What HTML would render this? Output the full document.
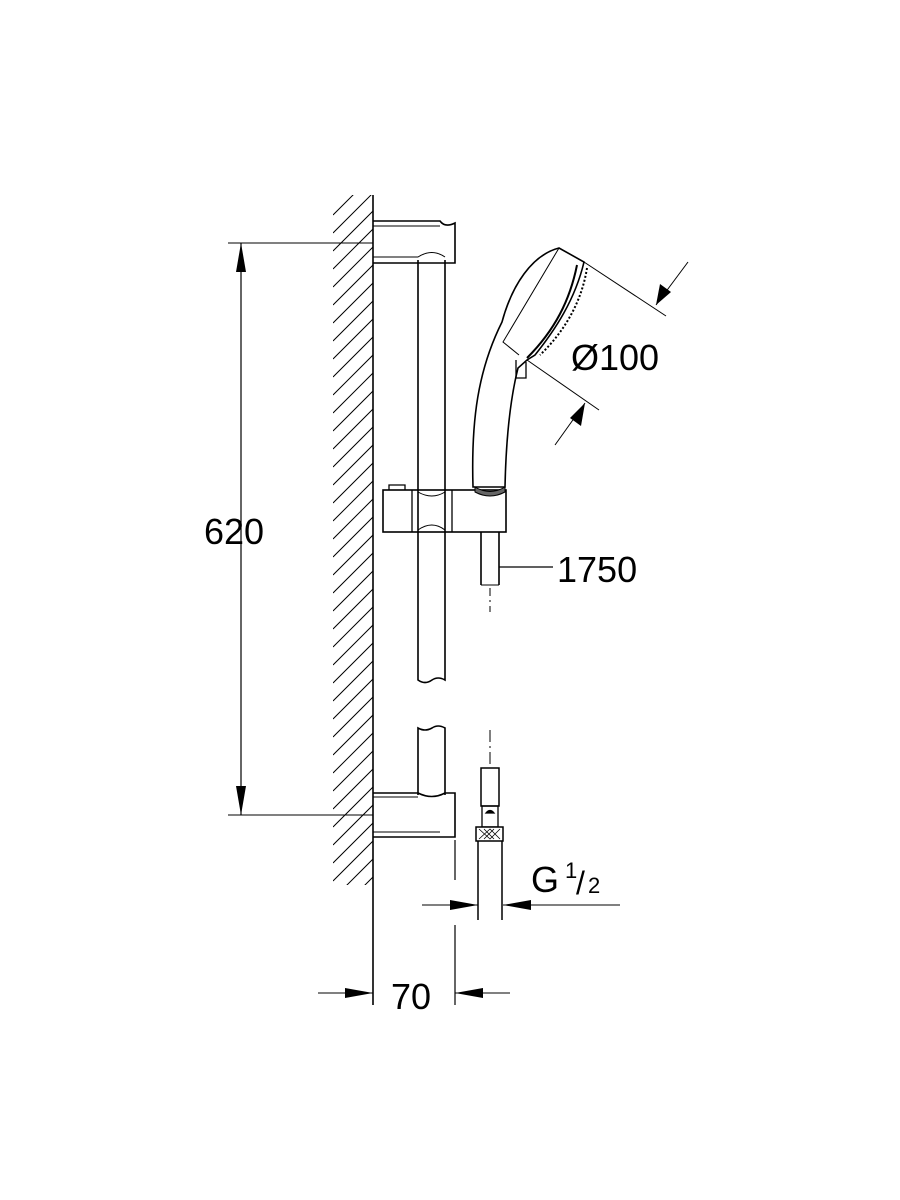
<!DOCTYPE html>
<html><head><style>html,body{margin:0;padding:0;background:#fff}svg{display:block}</style></head>
<body>
<svg width="900" height="1200" viewBox="0 0 900 1200" xmlns="http://www.w3.org/2000/svg" font-family="Liberation Sans, sans-serif">
<defs>
<clipPath id="hc"><rect x="333" y="195" width="40" height="690"/></clipPath>
</defs>
<g fill="none" stroke="#000" stroke-width="1.3">
<g clip-path="url(#hc)" stroke-width="1">
<path d="M333,215 L373,175 M333,233 L373,193 M333,251 L373,211 M333,269 L373,229 M333,287 L373,247 M333,305 L373,265 M333,323 L373,283 M333,341 L373,301 M333,359 L373,319 M333,377 L373,337 M333,395 L373,355 M333,413 L373,373 M333,431 L373,391 M333,449 L373,409 M333,467 L373,427 M333,485 L373,445 M333,503 L373,463 M333,521 L373,481 M333,539 L373,499 M333,557 L373,517 M333,575 L373,535 M333,593 L373,553 M333,611 L373,571 M333,629 L373,589 M333,647 L373,607 M333,665 L373,625 M333,683 L373,643 M333,701 L373,661 M333,719 L373,679 M333,737 L373,697 M333,755 L373,715 M333,773 L373,733 M333,791 L373,751 M333,809 L373,769 M333,827 L373,787 M333,845 L373,805 M333,863 L373,823 M333,881 L373,841 M333,899 L373,859 M333,917 L373,877"/>
</g>
<line x1="373" y1="195" x2="373" y2="1005" stroke-width="1.6"/>
<path d="M373,221 L440,221 Q445,228 455,223 L455,263 L373,263" stroke-width="1.6"/>
<path d="M373,226 L440,226" stroke-width="1"/>
<path d="M373,257 L418,257 Q432,248 445,257" stroke-width="1"/>
<path d="M418,260 L418,680 Q425,685 432,680 Q438,676 445,680 L445,260" stroke-width="1.6"/>
<path d="M418,795 L418,728 Q425,732 432,728 Q438,724 445,728 L445,795" stroke-width="1.6"/>
<path d="M373,793 L418,793 Q432,800 445,793 L455,793 L455,837 L373,837" stroke-width="1.6"/>
<path d="M373,797 L418,797 M373,832 L440,832" stroke-width="1"/>
<path d="M389,490 L389,485 L405,485 L405,490" stroke-width="1.3"/>
<rect x="383" y="490" width="123" height="42" stroke-width="1.6"/>
<line x1="412" y1="490" x2="412" y2="532"/>
<line x1="452" y1="490" x2="452" y2="532"/>
<path d="M418,492 Q432,500 445,492 M418,530 Q432,520 445,530" stroke-width="1"/>
<path d="M473,487 C471,420 478,370 502,322 C512,285 532,255 559,248 L584,262 C575,300 555,330 535,355 L527,360 L518,368 C510,400 506,440 505,487 Z" stroke-width="1.6" fill="#fff"/>
<path d="M559,248 L503,342 L519,355" stroke-width="1"/>
<path d="M577,265 C570,300 555,330 527,358" stroke-width="2"/>
<path d="M587,268 C582,300 566,330 540,355" stroke-width="2" stroke-dasharray="2,2"/>
<path d="M516,360 L516,378 L526,378 L526,362" stroke-width="1.3"/>
<path d="M475,487 Q490,496 505,487 L505,492 Q490,500 475,492 Z" fill="#666" stroke-width="1"/>
<path d="M481,532 L481,585 M499,532 L499,585" stroke-width="1.6"/>
<path d="M481,585 L499,585" stroke-width="1"/>
<path d="M490,588 L490,596 M490,600 L490,602 M490,606 L490,612" stroke-width="1"/>
<line x1="499" y1="567" x2="553" y2="567" stroke-width="1.2"/>
<path d="M490,730 L490,742 M490,746 L490,748 M490,752 L490,764" stroke-width="1"/>
<rect x="481" y="768" width="18" height="38" stroke-width="1.5"/>
<rect x="482" y="806" width="16" height="21" stroke-width="1.3"/>
<path d="M486,813 Q490,808 494,813 Z" fill="#000"/>
<rect x="476" y="827" width="27" height="14" fill="#fff" stroke-width="1.5"/>
<path d="M479,829 L490,839 L500,829 M479,839 L490,829 L500,839 M484,829 L494,839 M484,839 L494,829" stroke-width="0.8"/>
<path d="M478,841 L478,920 M502,841 L502,920" stroke-width="1.5"/>
<line x1="228" y1="243" x2="373" y2="243" stroke-width="1"/>
<line x1="228" y1="815" x2="373" y2="815" stroke-width="1"/>
<line x1="241" y1="243" x2="241" y2="815" stroke-width="1.2"/>
<line x1="584" y1="262" x2="666" y2="316" stroke-width="1"/>
<line x1="527" y1="360" x2="599" y2="410" stroke-width="1"/>
<line x1="688" y1="262" x2="656" y2="305" stroke-width="1"/>
<line x1="555" y1="445" x2="585" y2="403" stroke-width="1"/>
<line x1="422" y1="905" x2="478" y2="905" stroke-width="1"/>
<line x1="503" y1="905" x2="620" y2="905" stroke-width="1"/>
<path d="M455,840 L455,880 M455,925 L455,1005" stroke-width="1.2"/>
<line x1="318" y1="993" x2="373" y2="993" stroke-width="1"/>
<line x1="455" y1="993" x2="510" y2="993" stroke-width="1"/>
</g>
<g fill="#000">
<path d="M241,243 L236,272 L246,272 Z"/>
<path d="M241,815 L236,786 L246,786 Z"/>
<path d="M656,305 L660,284 L671,292 Z"/>
<path d="M585,403 L570,418 L581,426 Z"/>
<path d="M478,905 L450,900 L450,910 Z"/>
<path d="M503,905 L531,900 L531,910 Z"/>
<path d="M373,993 L345,988 L345,998 Z"/>
<path d="M455,993 L483,988 L483,998 Z"/>
</g>
<g fill="#000" font-size="36">
<text x="204" y="544">620</text>
<text x="571" y="370">Ø100</text>
<text x="557" y="582">1750</text>
<text x="531" y="892">G</text>
<text x="565" y="878" font-size="22">1</text>
<text x="576" y="894" font-size="32">/</text>
<text x="588" y="893" font-size="22">2</text>
<text x="391" y="1009">70</text>
</g>
</svg>
</body></html>
